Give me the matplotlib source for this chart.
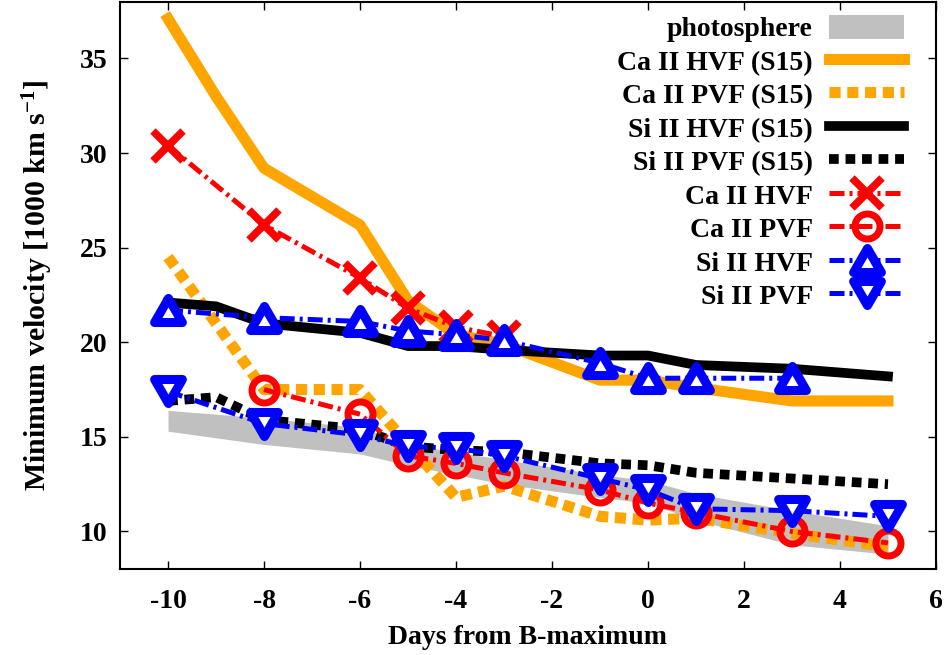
import matplotlib
matplotlib.use('Agg')
import matplotlib.pyplot as plt
from matplotlib.path import Path
from matplotlib.markers import MarkerStyle

# days from B-maximum
days_s15 = [-10, -9, -8, -6, -5, -4, -3, -1, 0, 1, 3, 5]
ca_hvf_s15 = [37.1, 33.0, 29.2, 26.2, 22.2, 20.4, 19.9, 18.0, 18.0, 17.6, 16.9, 16.9]
ca_pvf_s15 = [24.5, 21.0, 17.5, 17.5, 14.6, 11.8, 12.4, 10.8, 10.6, 10.7, 9.9, 9.2]
si_hvf_s15 = [22.1, 21.9, 21.0, 20.5, 19.8, 19.8, 19.6, 19.3, 19.3, 18.8, 18.6, 18.2]
si_pvf_s15 = [16.9, 17.1, 15.9, 15.4, 14.5, 14.3, 14.2, 13.6, 13.5, 13.1, 12.8, 12.5]

days_phot = [-10, -8, -6, -5, -4, -3, -1, 0, 1, 3, 5]
phot_low = [15.3, 14.6, 14.1, 13.5, 13.0, 12.5, 11.8, 11.5, 10.6, 9.3, 8.8]
phot_high = [16.4, 16.0, 15.5, 14.6, 14.2, 13.8, 13.0, 12.7, 12.0, 11.1, 10.3]

days_ca_hvf = [-10, -8, -6, -5, -4, -3]
ca_hvf = [30.4, 26.2, 23.4, 21.8, 20.8, 20.3]
days_ca_pvf = [-8, -6, -5, -4, -3, -1, 0, 1, 3, 5]
ca_pvf = [17.5, 16.2, 14.0, 13.6, 13.1, 12.2, 11.5, 11.0, 10.0, 9.4]
days_si_hvf = [-10, -8, -6, -5, -4, -3, -1, 0, 1, 3]
si_hvf = [21.7, 21.3, 21.1, 20.6, 20.4, 20.1, 18.9, 18.1, 18.1, 18.1]
days_si_pvf = [-10, -8, -6, -5, -4, -3, -1, 0, 1, 3, 5]
si_pvf = [17.4, 15.7, 15.1, 14.5, 14.4, 14.0, 12.8, 12.2, 11.2, 11.1, 10.8]

xticks = [-10, -8, -6, -4, -2, 0, 2, 4, 6]
yticks = [10, 15, 20, 25, 30, 35]

plt.rcParams['font.family'] = ['Liberation Serif', 'DejaVu Serif']
plt.rcParams['font.weight'] = 'bold'
plt.rcParams['axes.labelweight'] = 'bold'
plt.rcParams['font.size'] = 20
plt.rcParams['mathtext.fontset'] = 'custom'
plt.rcParams['mathtext.rm'] = 'Liberation Serif:bold'
plt.rcParams['mathtext.bf'] = 'Liberation Serif:bold'
plt.rcParams['mathtext.default'] = 'bf'

tri_up = MarkerStyle(Path([(-1, -0.866), (1, -0.866), (0, 0.866), (-1, -0.866)], closed=True),
                     joinstyle='miter')
tri_down = MarkerStyle(Path([(-1, 0.866), (1, 0.866), (0, -0.866), (-1, 0.866)], closed=True),
                       joinstyle='miter')
dashdot = (0, (3, 1, 0.6, 1))


def graph():
    fig = plt.figure(figsize=(9.48, 6.55), dpi=100)
    ax = fig.add_axes([0.1266, 0.1308, 0.8607, 0.8666])

    ax.fill_between(days_phot, phot_low, phot_high, color='#c0c0c0', lw=0, label='photosphere')
    ax.plot(days_s15, ca_hvf_s15, color='#ffa500', lw=8, label='Ca II HVF (S15)')
    ax.plot(days_s15, ca_pvf_s15, color='#ffa500', lw=8, dashes=(1, 0.6),
            dash_capstyle='butt', label='Ca II PVF (S15)')
    ax.plot(days_s15, si_hvf_s15, color='black', lw=7, label='Si II HVF (S15)')
    ax.plot(days_s15, si_pvf_s15, color='black', lw=7, dashes=(1, 0.7),
            dash_capstyle='butt', label='Si II PVF (S15)')

    ax.plot(days_ca_hvf, ca_hvf, color='red', lw=3.6, ls=dashdot, marker='x',
            ms=22, mew=5.5, label='Ca II HVF')
    ax.plot(days_ca_pvf, ca_pvf, color='red', lw=3.6, ls=dashdot, marker='o',
            ms=18, mew=5, mfc='none', label='Ca II PVF')
    ax.plot(days_si_hvf, si_hvf, color='blue', lw=3.6, ls=dashdot, marker=tri_up,
            ms=20, mew=6.5, mfc='white', label='Si II HVF')
    ax.plot(days_si_pvf, si_pvf, color='blue', lw=3.6, ls=dashdot, marker=tri_down,
            ms=20, mew=6.5, mfc='white', label='Si II PVF')

    ax.set_xlim(-11, 6)
    ax.set_ylim(8, 38)
    ax.set_xticks(xticks)
    ax.set_yticks(yticks)
    ax.set_xticklabels([str(t) for t in xticks])
    ax.tick_params(direction='in', length=6, width=1, top=True, right=True)
    ax.tick_params(axis='x', pad=14)
    ax.tick_params(axis='y', pad=9)
    for s in ax.spines.values():
        s.set_linewidth(1.5)

    ax.set_xlabel('Days from B-maximum', labelpad=8)
    ax.set_ylabel(r'Minimum velocity [1000 km s$^{-1}$]', fontsize=21.5, labelpad=18)

    ax.legend(loc='upper right', bbox_to_anchor=(0.975, 0.997), frameon=False,
              markerfirst=False, numpoints=1, handlelength=2.7, handleheight=1.0,
              handletextpad=0.6, labelspacing=0.2, borderaxespad=0.0)

    fig.savefig('out.png', dpi=100)


if __name__ == '__main__':
    graph()
